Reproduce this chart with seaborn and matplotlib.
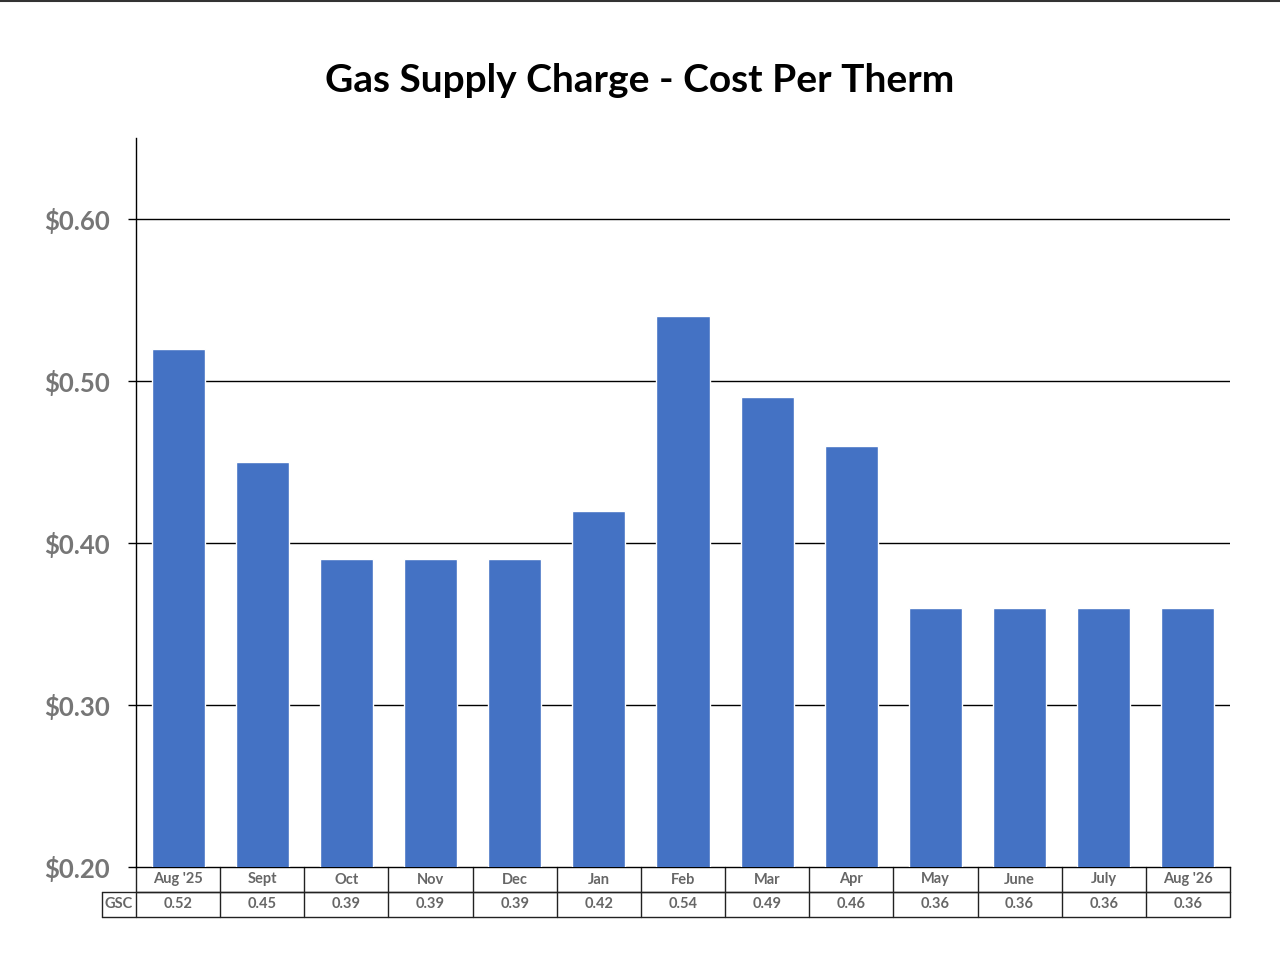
import matplotlib
matplotlib.use("Agg")
import matplotlib.pyplot as plt
import matplotlib.transforms as mtransforms
from matplotlib.lines import Line2D
import seaborn as sns
import pandas as pd

# Chart data
months = ["Aug '25", "Sept", "Oct", "Nov", "Dec", "Jan", "Feb",
          "Mar", "Apr", "May", "June", "July", "Aug '26"]
gsc = [0.52, 0.45, 0.39, 0.39, 0.39, 0.42, 0.54,
       0.49, 0.46, 0.36, 0.36, 0.36, 0.36]
y_ticks = [0.20, 0.30, 0.40, 0.50, 0.60]
series_name = "GSC"

df = pd.DataFrame({"month": months, "value": gsc})

sns.set_style("white")
plt.rcParams['font.family'] = ['Lato', 'DejaVu Sans']

fig = plt.figure(figsize=(12.8, 9.6), dpi=100)
ax = fig.add_axes([136/1280, 1 - 867/960, 1094/1280, 729/960])

sns.barplot(data=df, x="month", y="value", color="#4472C4",
            width=0.63, saturation=1, ax=ax, zorder=3)

ax.set_ylim(0.2, 0.65)
ax.set_xlim(-0.5, len(months) - 0.5)
ax.set_yticks(y_ticks)
ax.set_yticklabels([f"${v:.2f}" for v in y_ticks], fontsize=18.5,
                   fontweight="bold", color="#767676")
ax.tick_params(axis="y", length=6, width=1, color="black", pad=13, left=True)
ax.set_xticks([])
ax.set_xlabel("")
ax.set_ylabel("")

for v in y_ticks[1:]:
    ax.axhline(v, color="black", lw=1, zorder=1)

for side in ["top", "right"]:
    ax.spines[side].set_visible(False)
ax.spines["left"].set_color("black")
ax.spines["left"].set_linewidth(1)
ax.spines["bottom"].set_color("black")
ax.spines["bottom"].set_linewidth(1)

# Data table below the plot
trans = mtransforms.blended_transform_factory(ax.transData, ax.transAxes)
row_h = 25 / 729
label_left = -0.5 - 34 / (1094 / len(months))
n = len(months)
lc = "#222222"
tc = "#666666"

# horizontal lines
ax.add_line(Line2D([-0.5, n - 0.5], [-row_h, -row_h], transform=trans,
                   color=lc, lw=1, clip_on=False))
ax.add_line(Line2D([label_left, n - 0.5], [-row_h, -row_h], transform=trans,
                   color=lc, lw=1, clip_on=False))
ax.add_line(Line2D([label_left, n - 0.5], [-2 * row_h, -2 * row_h],
                   transform=trans, color=lc, lw=1, clip_on=False))
# vertical lines
for i in range(n + 1):
    ax.add_line(Line2D([i - 0.5, i - 0.5], [0, -2 * row_h], transform=trans,
                       color=lc, lw=1, clip_on=False))
ax.add_line(Line2D([label_left, label_left], [-row_h, -2 * row_h],
                   transform=trans, color=lc, lw=1, clip_on=False))

for i, (m, v) in enumerate(zip(months, gsc)):
    ax.text(i, -row_h / 2, m, transform=trans, ha="center", va="center",
            fontsize=10.5, fontweight="bold", color=tc, clip_on=False)
    ax.text(i, -1.5 * row_h, f"{v:.2f}", transform=trans, ha="center",
            va="center", fontsize=10.5, fontweight="bold", color=tc, clip_on=False)
ax.text((label_left - 0.5) / 2, -1.5 * row_h, series_name, transform=trans,
        ha="center", va="center", fontsize=10.5, fontweight="bold", color=tc,
        clip_on=False)

fig.text(0.5, 1 - 81 / 960, "Gas Supply Charge - Cost Per Therm",
         ha="center", va="center", fontsize=28, fontweight="bold",
         color="black")

fig.add_artist(Line2D([0, 1], [0.999, 0.999], transform=fig.transFigure,
                      color="#333333", lw=1.5))

fig.savefig("out.png", dpi=100, facecolor="white")
